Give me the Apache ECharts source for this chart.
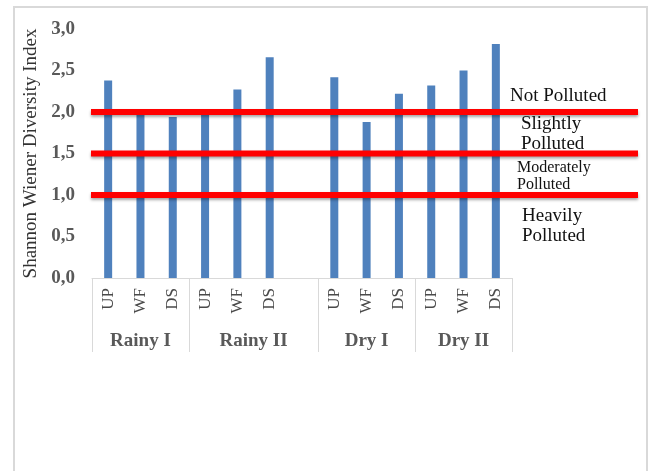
<!DOCTYPE html>
<html>
<head>
<meta charset="utf-8">
<title>Shannon Wiener Diversity Index</title>
<script src="https://cdn.jsdelivr.net/npm/echarts@6/dist/echarts.min.js"></script>
<style>
  html, body { margin: 0; padding: 0; background: #ffffff; }
  #chart { width: 652px; height: 471px; }
</style>
</head>
<body>
<div id="chart"></div>
<script>
// Sampling points within each season (one blank slot after Rainy II)
const siteLabels = ['UP', 'WF', 'DS', 'UP', 'WF', 'DS', '', 'UP', 'WF', 'DS', 'UP', 'WF', 'DS'];
// Shannon Wiener diversity index per slot (null = blank slot)
const shannonIndex = [2.38, 1.97, 1.94, 1.97, 2.27, 2.66, null, 2.42, 1.88, 2.22, 2.32, 2.50, 2.82];
// Seasons and how many slots each covers on the category axis
const seasonNames = ['Rainy I', 'Rainy II', 'Dry I', 'Dry II'];
const seasonSlots = [3, 4, 3, 3];
// Pollution class boundaries on the index scale
const pollutionThresholds = [2.0, 1.5, 1.0];
// Y axis tick settings
const yMin = 0, yMax = 3, yStep = 0.5;

// Season boundaries and centres in slot units
const seasonEdges = [0];
seasonSlots.forEach(n => seasonEdges.push(seasonEdges[seasonEdges.length - 1] + n));
const seasonCentres = seasonSlots.map((n, i) => seasonEdges[i] + n / 2);
const totalSlots = seasonEdges[seasonEdges.length - 1];

const serif = '"Liberation Serif", "Times New Roman", serif';
const chart = echarts.init(document.getElementById('chart'));

const option = {
  backgroundColor: '#ffffff',
  animation: false,
  grid: [
    { left: 92, right: 140, top: 29, bottom: 193 },
    { left: 91, right: 14, top: 29, bottom: 193 }
  ],
  xAxis: [
    {
      type: 'category',
      gridIndex: 0,
      data: siteLabels,
      boundaryGap: true,
      axisLine: { show: true, lineStyle: { color: '#d9d9d9', width: 1 } },
      axisTick: { show: false },
      axisLabel: {
        rotate: 90,
        margin: 10,
        interval: 0,
        fontFamily: serif,
        fontSize: 17,
        color: '#4a4a4a'
      },
      splitLine: { show: false }
    },
    {
      type: 'value',
      gridIndex: 0,
      position: 'bottom',
      min: 0,
      max: totalSlots,
      axisLine: { show: false },
      axisTick: {
        show: true,
        customValues: seasonEdges,
        length: 74,
        lineStyle: { color: '#d9d9d9', width: 1 }
      },
      axisLabel: {
        show: true,
        customValues: seasonCentres,
        margin: 54,
        fontFamily: serif,
        fontWeight: 'bold',
        fontSize: 19,
        color: '#595959',
        formatter: function (v) {
          const i = seasonCentres.findIndex(c => Math.abs(c - v) < 1e-6);
          return i >= 0 ? seasonNames[i] : '';
        }
      },
      splitLine: { show: false }
    },
    {
      type: 'value',
      gridIndex: 1,
      min: 0,
      max: 1,
      show: false
    }
  ],
  yAxis: [
    {
      type: 'value',
      gridIndex: 0,
      min: yMin,
      max: yMax,
      interval: yStep,
      name: 'Shannon Wiener Diversity Index',
      nameLocation: 'middle',
      nameGap: 51,
      nameRotate: 90,
      nameTextStyle: { fontFamily: serif, fontSize: 19, color: '#333333' },
      axisLine: { show: false },
      axisTick: { show: false },
      splitLine: { show: false },
      axisLabel: {
        margin: 17,
        fontFamily: serif,
        fontWeight: 'bold',
        fontSize: 19,
        color: '#595959',
        formatter: v => v.toFixed(1).replace('.', ',')
      }
    },
    {
      type: 'value',
      gridIndex: 1,
      min: yMin,
      max: yMax,
      show: false
    }
  ],
  series: [
    {
      type: 'bar',
      xAxisIndex: 0,
      yAxisIndex: 0,
      data: shannonIndex.map(v => (v === null ? '-' : v)),
      barWidth: 8,
      itemStyle: { color: '#4f81bd' },
      z: 2
    }
  ].concat(pollutionThresholds.map(t => ({
    type: 'line',
    xAxisIndex: 2,
    yAxisIndex: 1,
    data: [[0, t], [1, t]],
    symbol: 'none',
    silent: true,
    lineStyle: {
      color: '#ff0000',
      width: 6,
      shadowColor: 'rgba(0,0,0,0.35)',
      shadowBlur: 3,
      shadowOffsetY: 2
    },
    z: 5
  }))),
  graphic: [
    {
      type: 'rect',
      shape: { x: 14, y: 7, width: 633, height: 480 },
      style: { fill: 'none', stroke: '#d9d9d9', lineWidth: 2 },
      silent: true,
      z: 0
    },
    {
      type: 'text', left: 510, top: 87,
      style: { text: 'Not Polluted', font: '19px ' + serif, fill: '#111111' }
    },
    {
      type: 'text', left: 521, top: 114,
      style: { text: 'Slightly\nPolluted', font: '19px ' + serif, lineHeight: 20, fill: '#111111' }
    },
    {
      type: 'text', left: 517, top: 159,
      style: { text: 'Moderately\nPolluted', font: '16px ' + serif, lineHeight: 17, fill: '#111111' }
    },
    {
      type: 'text', left: 522, top: 206,
      style: { text: 'Heavily\nPolluted', font: '19px ' + serif, lineHeight: 20, fill: '#111111' }
    }
  ]
};

chart.setOption(option);
</script>
</body>
</html>
